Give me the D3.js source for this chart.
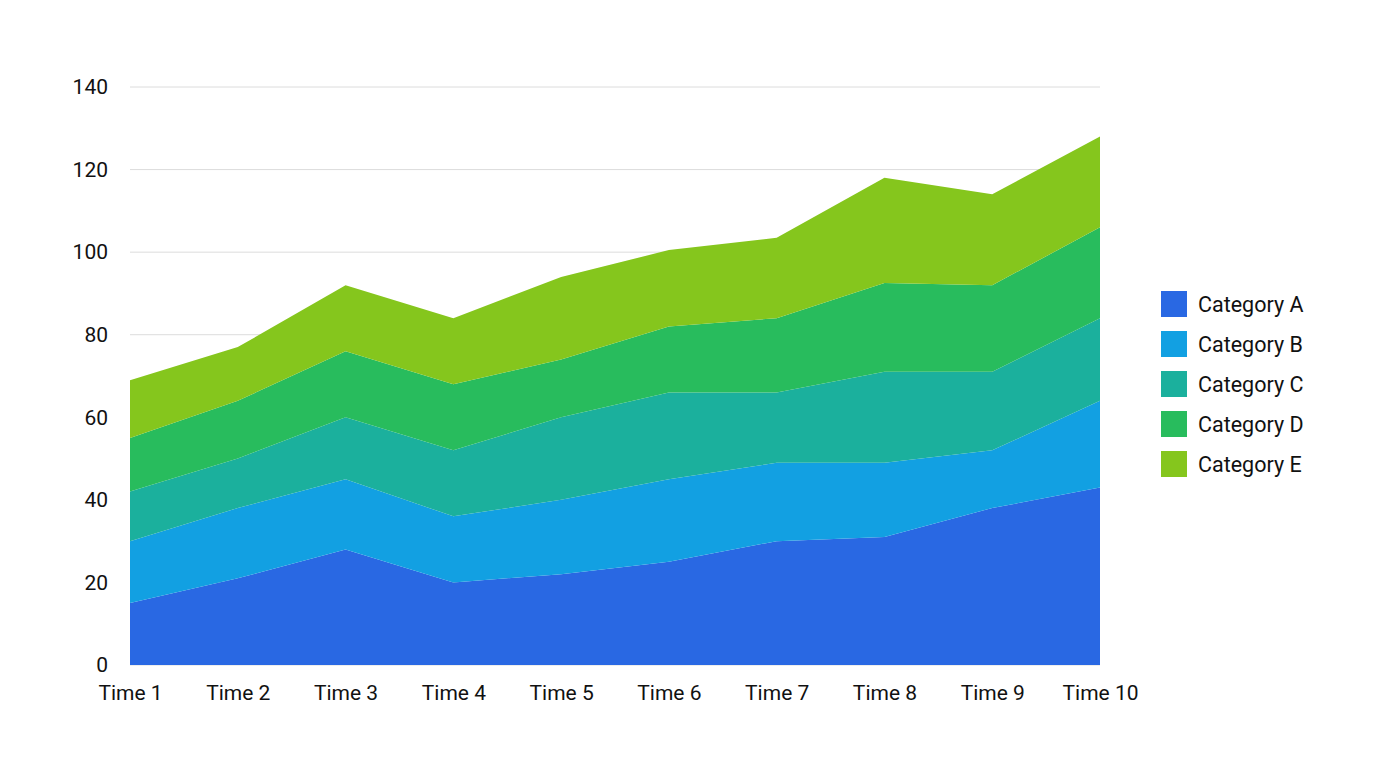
<!DOCTYPE html>
<html>
<head>
<meta charset="utf-8">
<script src="https://cdn.jsdelivr.net/npm/d3@7"></script>
<style>
  body { margin: 0; background: #fff; }
  text { font-family: Roboto, "Noto Sans", sans-serif; fill: #111; }
</style>
</head>
<body>
<svg id="chart"></svg>
<script>
const times = ["Time 1", "Time 2", "Time 3", "Time 4", "Time 5", "Time 6", "Time 7", "Time 8", "Time 9", "Time 10"];
const categories = ["Category A", "Category B", "Category C", "Category D", "Category E"];
const seriesA = [15, 21, 28, 20, 22, 25, 30, 31, 38, 43];
const seriesB = [15, 17, 17, 16, 18, 20, 19, 18, 14, 21];
const seriesC = [12, 12, 15, 16, 20, 21, 17, 22, 19, 20];
const seriesD = [13, 14, 16, 16, 14, 16, 18, 21.5, 21, 22];
const seriesE = [14, 13, 16, 16, 20, 18.5, 19.5, 25.5, 22, 22];
const yTicks = [0, 20, 40, 60, 80, 100, 120, 140];
const colors = ["#2968E3", "#12A0E2", "#1BB09D", "#28BC5D", "#85C61D"];

const series = [seriesA, seriesB, seriesC, seriesD, seriesE];
const data = times.map((t, i) => {
  const row = { time: t };
  categories.forEach((c, k) => { row[c] = series[k][i]; });
  return row;
});

const W = 1376, H = 768;
const margin = { top: 87, right: 276, bottom: 103, left: 130 };
const width = W - margin.left - margin.right;
const height = H - margin.top - margin.bottom;

const svg = d3.select("#chart").attr("width", W).attr("height", H);
const g = svg.append("g").attr("transform", `translate(${margin.left},${margin.top})`);

const x = d3.scalePoint().domain(times).range([0, width]);
const y = d3.scaleLinear().domain([0, 140]).range([height, 0]);

// Gridlines
g.append("g")
  .selectAll("line")
  .data(yTicks)
  .enter().append("line")
  .attr("x1", 0).attr("x2", width)
  .attr("y1", d => y(d)).attr("y2", d => y(d))
  .attr("stroke", "#dcdcdc").attr("stroke-width", 1);

// Stack
const stacked = d3.stack().keys(categories)(data);
const area = d3.area()
  .x(d => x(d.data.time))
  .y0(d => y(d[0]))
  .y1(d => y(d[1]));

g.selectAll(".area")
  .data(stacked)
  .enter().append("path")
  .attr("class", "area")
  .attr("d", area)
  .attr("fill", (d, i) => colors[i]);

// Y axis
const yAxis = g.append("g")
  .call(d3.axisLeft(y).tickValues(yTicks).tickSize(0).tickPadding(22));
yAxis.select(".domain").remove();
yAxis.selectAll("text").style("font-size", "21px").attr("fill", "#111");

// X axis
const xAxis = g.append("g")
  .attr("transform", `translate(0,${height})`)
  .call(d3.axisBottom(x).tickSize(0).tickPadding(20));
xAxis.select(".domain").remove();
xAxis.selectAll("text").style("font-size", "21px").attr("fill", "#111");

// Legend
const legend = svg.append("g").attr("transform", "translate(1161,291)");
const items = legend.selectAll(".legend-item")
  .data(categories)
  .enter().append("g")
  .attr("class", "legend-item")
  .attr("transform", (d, i) => `translate(0,${i * 40})`);

items.append("rect")
  .attr("width", 26).attr("height", 26)
  .attr("fill", (d, i) => colors[i]);

items.append("text")
  .attr("x", 37).attr("y", 13)
  .attr("dy", "0.35em")
  .style("font-size", "21.5px")
  .text(d => d);
</script>
</body>
</html>
